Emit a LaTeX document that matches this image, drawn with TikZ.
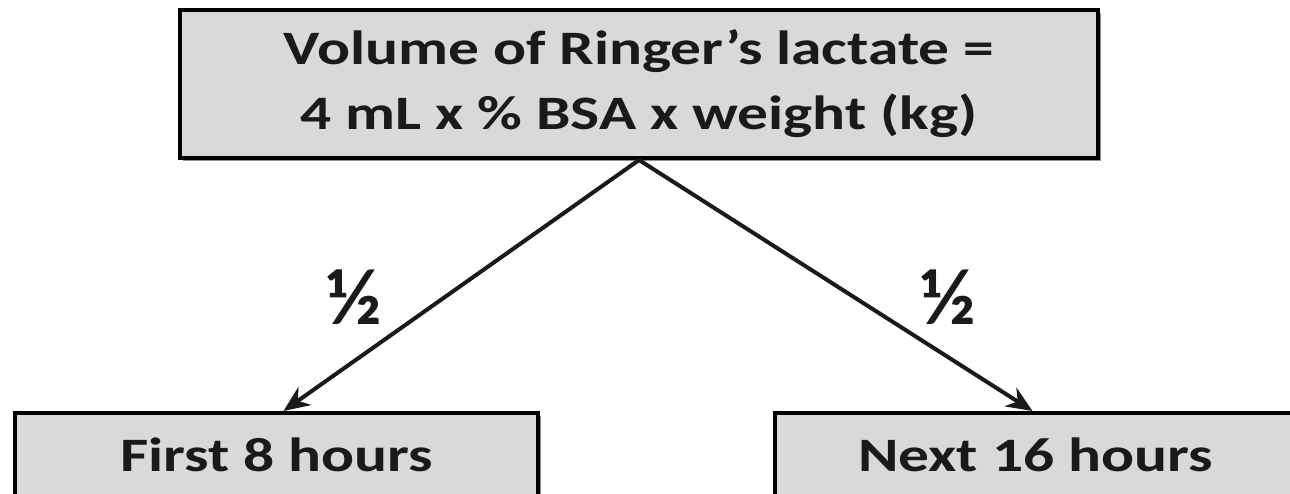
\documentclass[tikz,border=0pt]{standalone}
\usepackage{fontspec}
\setmainfont{Carlito}
\usetikzlibrary{shadows,arrows.meta}
\definecolor{boxfill}{HTML}{D9D9D9}
\definecolor{ink}{HTML}{1A1A1A}
\newcommand{\widetxt}[1]{\scalebox{1.28}[1]{#1}}
\tikzset{
  gbox/.style={draw=black, line width=4pt, fill=boxfill, text=ink,
    font=\fontsize{48}{65}\selectfont\bfseries, align=center, inner sep=0pt,
    drop shadow={shadow xshift=3pt, shadow yshift=-3pt, fill=black!55, opacity=0.8}},
  arr/.style={line width=4pt, ink, -{Stealth[length=26pt,width=22pt]}},
  frac/.style={font=\fontsize{80}{80}\selectfont\bfseries, text=ink}
}
\begin{document}
\begin{tikzpicture}[x=1pt,y=1pt]
\useasboundingbox (0,0) rectangle (1290,494);
\clip (0,0) rectangle (1290,494);
\fill[white] (0,0) rectangle (1290,494);
\node[gbox, minimum width=918pt, minimum height=148pt] (top) at (639,410)
  {\widetxt{Volume of Ringer’s lactate =}\\\widetxt{4 mL x \% BSA x weight (kg)}};
\node[gbox, minimum width=523pt, minimum height=84pt] (left) at (276.5,39) {\widetxt{First 8 hours}};
\node[gbox, minimum width=521pt, minimum height=84pt] (right) at (1035.5,39) {\widetxt{Next 16 hours}};
\draw[arr] (top.south) -- ([xshift=7pt]left.north);
\draw[arr] (top.south) -- ([xshift=-3pt]right.north);
\node[frac] (h1) at (354,197) {½};
\node[frac] (h2) at (948,197) {½};
\end{tikzpicture}
\end{document}
